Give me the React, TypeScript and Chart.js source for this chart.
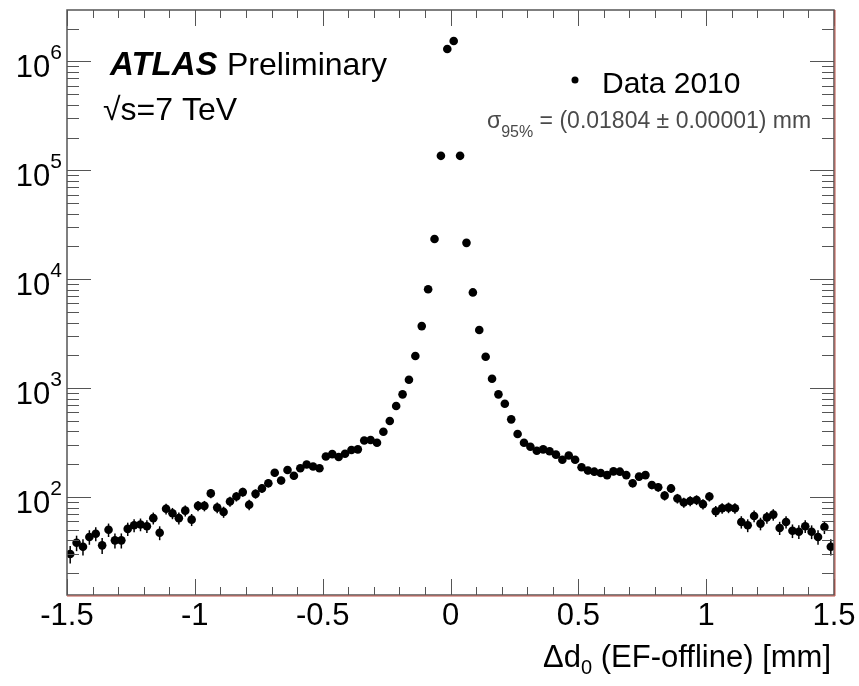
import React, { useEffect, useRef } from 'react';
import { Chart, registerables } from 'chart.js';

Chart.register(...registerables);

// Histogram binning (bin edges from -1.5 to 1.5, width 0.025 mm)
const BIN_LOW = -1.5;
const BIN_WIDTH = 0.025;

// Entries per bin
const counts: number[] = [
  30, 38, 35, 43, 46, 36, 50, 40, 40, 51,
  55, 56, 54, 64, 47, 78, 71, 64, 75, 62,
  83, 83, 108, 80, 73, 91, 101, 111, 85, 107,
  120, 134, 167, 142, 177, 157, 184, 199, 191, 184,
  236, 248, 233, 250, 270, 274, 331, 334, 315, 398,
  499, 685, 877, 1195, 1972, 3715, 8100, 23400, 136000, 1300000,
  1540000, 136000, 21600, 7570, 3420, 1942, 1220, 877, 720, 517,
  379, 315, 290, 266, 274, 263, 245, 220, 241, 220,
  188, 175, 171, 166, 159, 172, 171, 159, 134, 154,
  159, 129, 123, 103, 120, 97, 89, 92, 94, 86,
  101, 74, 79, 80, 79, 59, 55, 67, 57, 65,
  69, 52, 59, 49, 48, 54, 48, 43, 53, 35,
];

const xTickValues = [-1.5, -1, -0.5, 0, 0.5, 1, 1.5];
const xTickLabels = ['-1.5', '-1', '-0.5', '0', '0.5', '1', '1.5'];
const yTickExponents = [2, 3, 4, 5, 6];
const X_MIN = -1.5;
const X_MAX = 1.5;
const Y_MIN = 12.6;
const Y_MAX = 2.97e6;

const legendLabel = 'Data 2010';
const atlasLabel = 'ATLAS';
const prelimLabel = 'Preliminary';
const energyLabel = '\u221As=7 TeV';
const sigmaSymbol = '\u03C3';
const sigmaSub = '95%';
const sigmaText = ' = (0.01804 \u00B1 0.00001) mm';
const xTitleMain = '\u0394d';
const xTitleSub = '0';
const xTitleRest = ' (EF-offline) [mm]';

const FONT = '"Liberation Sans", Arial, Helvetica, sans-serif';

const atlasPlugin = {
  id: 'atlasDecor',
  beforeDatasetsDraw(chart: any) {
    const { ctx, chartArea } = chart;
    const xs = chart.scales.x;
    const ys = chart.scales.y;
    ctx.save();
    ctx.beginPath();
    ctx.rect(chartArea.left, chartArea.top, chartArea.right - chartArea.left, chartArea.bottom - chartArea.top);
    ctx.clip();
    ctx.strokeStyle = '#000';
    ctx.lineWidth = 1.5;
    counts.forEach((c, i) => {
      const xc = BIN_LOW + (i + 0.5) * BIN_WIDTH;
      const err = Math.sqrt(c);
      const px = xs.getPixelForValue(xc);
      const yTop = ys.getPixelForValue(c + err);
      const yBot = ys.getPixelForValue(Math.max(c - err, Y_MIN * 0.5));
      ctx.beginPath();
      ctx.moveTo(px, yTop);
      ctx.lineTo(px, yBot);
      ctx.stroke();
    });
    ctx.restore();
  },
  afterDraw(chart: any) {
    const { ctx, chartArea } = chart;
    const xs = chart.scales.x;
    const ys = chart.scales.y;
    const L = chartArea.left, R = chartArea.right, T = chartArea.top, B = chartArea.bottom;
    ctx.save();

    // ticks
    ctx.strokeStyle = '#555';
    ctx.lineWidth = 1;
    for (let k = -15; k <= 15; k++) {
      const v = k / 10;
      const px = Math.round(xs.getPixelForValue(v)) + 0.5;
      const major = k % 5 === 0;
      const len = major ? 16 : 8;
      ctx.beginPath();
      ctx.moveTo(px, B);
      ctx.lineTo(px, B - len);
      ctx.moveTo(px, T);
      ctx.lineTo(px, T + len);
      ctx.stroke();
    }
    for (let e = 1; e <= 6; e++) {
      for (let m = 1; m <= 9; m++) {
        const v = m * Math.pow(10, e);
        if (v < Y_MIN || v > Y_MAX) continue;
        const py = Math.round(ys.getPixelForValue(v)) + 0.5;
        const len = m === 1 ? 24 : 12;
        ctx.beginPath();
        ctx.moveTo(L, py);
        ctx.lineTo(L + len, py);
        ctx.moveTo(R, py);
        ctx.lineTo(R - len, py);
        ctx.stroke();
      }
    }

    // frame
    ctx.strokeStyle = '#555';
    ctx.lineWidth = 1.5;
    ctx.strokeRect(L, T, R - L, B - T);
    ctx.strokeStyle = '#c0554a';
    ctx.lineWidth = 1;
    ctx.beginPath();
    ctx.moveTo(L, B + 1);
    ctx.lineTo(R + 1, B + 1);
    ctx.moveTo(R + 1, T);
    ctx.lineTo(R + 1, B + 1);
    ctx.stroke();

    // x tick labels
    ctx.fillStyle = '#000';
    ctx.font = `31px ${FONT}`;
    ctx.textAlign = 'center';
    ctx.textBaseline = 'alphabetic';
    xTickValues.forEach((v, i) => {
      ctx.fillText(xTickLabels[i], xs.getPixelForValue(v), 625);
    });

    // y tick labels 10^n
    yTickExponents.forEach((e) => {
      const py = ys.getPixelForValue(Math.pow(10, e));
      const sup = String(e);
      ctx.font = `21px ${FONT}`;
      const supW = ctx.measureText(sup).width;
      ctx.textAlign = 'right';
      ctx.fillText(sup, L - 5, py - 2);
      ctx.font = `31px ${FONT}`;
      ctx.fillText('10', L - 5 - supW, py + 15.5);
    });

    // x axis title
    ctx.textAlign = 'left';
    ctx.font = `31px ${FONT}`;
    const wMain = ctx.measureText(xTitleMain).width;
    const wRest = ctx.measureText(xTitleRest).width;
    ctx.font = `20px ${FONT}`;
    const wSub = ctx.measureText(xTitleSub).width;
    const titleRight = 831;
    let tx = titleRight - wMain - wSub - wRest;
    ctx.font = `31px ${FONT}`;
    ctx.fillText(xTitleMain, tx, 667);
    tx += wMain;
    ctx.font = `20px ${FONT}`;
    ctx.fillText(xTitleSub, tx, 674);
    tx += wSub;
    ctx.font = `31px ${FONT}`;
    ctx.fillText(xTitleRest, tx, 667);

    // ATLAS Preliminary
    ctx.font = `italic bold 33px ${FONT}`;
    ctx.fillText(atlasLabel, 110, 75);
    ctx.font = `32px ${FONT}`;
    ctx.fillText(prelimLabel, 227, 75);
    ctx.fillText(energyLabel, 103, 120);

    // legend
    ctx.beginPath();
    ctx.arc(575, 80, 3.5, 0, Math.PI * 2);
    ctx.fill();
    ctx.font = `30px ${FONT}`;
    ctx.fillText(legendLabel, 602, 93);

    // sigma text
    ctx.fillStyle = '#4a4a4a';
    ctx.font = `23px ${FONT}`;
    ctx.fillText(sigmaSymbol, 487, 128);
    const wS = ctx.measureText(sigmaSymbol).width;
    ctx.font = `16px ${FONT}`;
    ctx.fillText(sigmaSub, 487 + wS, 137);
    const wSub95 = ctx.measureText(sigmaSub).width;
    ctx.font = `23px ${FONT}`;
    ctx.fillText(sigmaText, 487 + wS + wSub95, 128);

    ctx.restore();
  },
};

export default function App() {
  const canvasRef = useRef<HTMLCanvasElement | null>(null);

  useEffect(() => {
    const canvas = canvasRef.current;
    if (!canvas) return;
    const points = counts.map((c, i) => ({ x: BIN_LOW + (i + 0.5) * BIN_WIDTH, y: c }));
    const chart = new Chart(canvas, {
      type: 'scatter',
      data: {
        datasets: [
          {
            label: legendLabel,
            data: points,
            pointRadius: 4.3,
            pointBackgroundColor: '#000',
            pointBorderColor: '#000',
            pointBorderWidth: 0,
            showLine: false,
          },
        ],
      },
      options: {
        animation: false,
        responsive: false,
        maintainAspectRatio: false,
        events: [],
        layout: { padding: { left: 67, right: 25, top: 10, bottom: 91 } },
        plugins: {
          legend: { display: false },
          tooltip: { enabled: false },
        },
        scales: {
          x: { type: 'linear', display: false, min: X_MIN, max: X_MAX, bounds: 'data' },
          y: { type: 'logarithmic', display: false, min: Y_MIN, max: Y_MAX, bounds: 'data' },
        },
      },
      plugins: [atlasPlugin],
    });
    return () => chart.destroy();
  }, []);

  return (
    <div style={{ position: 'absolute', left: 0, top: 0, width: 859, height: 686, background: '#fff' }}>
      <canvas ref={canvasRef} width={859} height={686} style={{ display: 'block', width: 859, height: 686 }} />
    </div>
  );
}
